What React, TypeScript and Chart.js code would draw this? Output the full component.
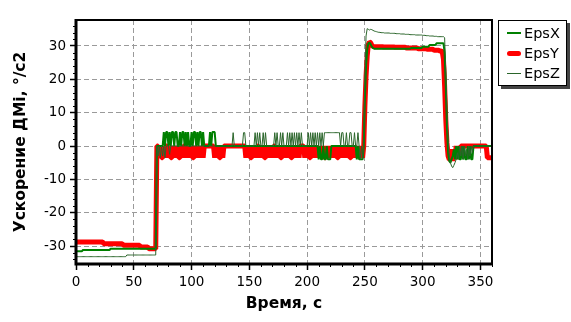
import React, { useEffect, useRef } from 'react';
import { Chart, registerables } from 'chart.js';

Chart.register(...registerables);

// sampling of the recorded series (seconds)
const T_START = 0;
const T_STEP = 1;

// axis ticks
const X_TICKS = [0, 50, 100, 150, 200, 250, 300, 350];
const Y_TICKS = [-30, -20, -10, 0, 10, 20, 30];
const X_MIN = 0;
const X_MAX = 360;
const Y_MIN = -35.4;
const Y_MAX = 37.8;
const X_MINOR_STEP = 10;
const Y_MINOR_STEP = 2;

const SERIES_NAMES = ['EpsX', 'EpsY', 'EpsZ'];

// EpsX, one value per second, t = 0..360
const EPS_X = [
  -31.6, -31.6, -31.6, -31.6, -31.6, -31.6, -31.2, -31.2, -31.2, -31.2,
  -31.2, -31.2, -31.2, -31.2, -31.2, -31.2, -31.2, -31.2, -31.2, -31.2,
  -31.2, -31.2, -31.2, -31.2, -31.2, -31.2, -31.2, -31.2, -31.2, -31.2,
  -30.8, -30.8, -30.8, -30.8, -30.8, -30.8, -30.8, -30.8, -30.8, -30.8,
  -30.8, -30.8, -30.8, -30.8, -30.8, -30.8, -30.8, -30.8, -30.8, -30.8,
  -30.8, -30.8, -30.8, -30.8, -30.8, -30.8, -30.8, -30.8, -30.8, -30.8,
  -30.8, -30.8, -30.8, -30.8, -30.8, -30.8, -30.8, -30.8, -30.8, -30.8,
  0, 0, 0, 0, 0, 0, 4.2, 0, 4.2, 4.2,
  0, 4.2, 0, 4.2, 4.2, 0, 4.2, 4.2, 0, 0,
  4.2, 0, 4.2, 4.2, 0, 4.2, 0, 4.2, 0, 0,
  4.2, 0, 4.2, 4.2, 0, 4.2, 0, 4.2, 4.2, 0,
  4.2, 0, 0, 0, 0, 0, 4.2, 0, 4.2, 4.2,
  4.2, 0, 0, 0, 0, 0, 0, 0, 0, 0,
  0, 0, 0, 0, 0, 0, 0, 0, 0, 0,
  0, 0, 0, 0, 0, 0, 0, 0, 0, 0,
  0, 0, 0, 0, 0, 0, 0, 0, 0, 0,
  0, 0, 0, 0, 0, 0, 0, 0, 0, 0,
  0, 0, 0, 0, 0, 0, 0, 0, 0, 0,
  0, 0, 0, 0, 0, 0, 0, 0, 0, 0,
  0, 0, 0, 0, 0, 0, 0, 0, 0, 0,
  0, 0, 0, 0, 0, 0, 0, 0, 0, 0,
  -4, 0, -4, -4, 0, -4, -4, 0, -4, -4,
  -4, 0, 0, 0, 0, 0, 0, 0, 0, 0,
  0, 0, 0, 0, 0, 0, 0, 0, 0, 0,
  0, 0, 0, -4, 0, -4, -4, -4, -4, 0,
  14, 24, 29, 30.8, 31, 30.5, 29.8, 29.4, 29.2, 29.2,
  29.2, 29.2, 29.2, 29.2, 29.2, 29.2, 29.2, 29.2, 29.2, 29.2,
  29.2, 29.2, 29.2, 29.2, 29.2, 29.2, 29.2, 29.2, 29.2, 29.2,
  29.2, 29.2, 29.2, 29.2, 29.2, 29.2, 29.2, 29.2, 29.2, 29.2,
  29.4, 29.4, 29.4, 29.4, 29.4, 29.4, 29.4, 29.4, 29.4, 29.4,
  29.8, 29.8, 29.8, 29.8, 29.8, 29.8, 30.3, 30.3, 30.3, 30.3,
  30.3, 30.3, 30.8, 30.8, 30.8, 30.8, 30.8, 30.8, 30.8, 28,
  18, 6, -2, -4.5, -5, -4, -3, -1, -4, 0,
  -4, 0, -4, -4, 0, -4, 0, -4, -4, 0,
  -4, 0, -4, -4, 0, 0, 0, 0, 0, 0,
  0, 0, 0, 0, 0, 0, 0, 0, 0, 0,
  0,
];

// EpsY, one value per second, t = 0..360
const EPS_Y = [
  -28.8, -28.8, -28.8, -28.8, -28.8, -28.8, -28.8, -28.8, -28.8, -28.8,
  -28.8, -28.8, -28.8, -28.8, -28.8, -28.8, -28.8, -28.8, -28.8, -28.8,
  -28.8, -28.8, -28.8, -28.8, -29.3, -29.3, -29.3, -29.3, -29.3, -29.3,
  -29.3, -29.3, -29.3, -29.3, -29.3, -29.3, -29.3, -29.3, -29.3, -29.3,
  -29.3, -29.8, -29.8, -29.8, -29.8, -29.8, -29.8, -29.8, -29.8, -29.8,
  -29.8, -29.8, -29.8, -29.8, -29.8, -29.8, -30.3, -30.3, -30.3, -30.3,
  -30.3, -30.3, -30.3, -30.8, -30.8, -30.8, -30.8, -30.8, -30.8, -30.8,
  0, 0, -3.5, 0, -3.5, -3.5, 0, -3.5, 0, 0,
  -3.5, 0, -3.5, -3.5, 0, -3.5, 0, -3.5, 0, -3.5,
  -3.5, 0, -3.5, 0, 0, -3.5, 0, -3.5, 0, -3.5,
  0, -3.5, -3.5, 0, -3.5, 0, -3.5, 0, -3.5, 0,
  -3.5, 0, 0, 0, 0, 0, 0, 0, 0, 0,
  -3.5, 0, -3.5, 0, -3.5, -3.5, 0, -3.5, 0, 0,
  0, 0, 0, 0, 0, 0, 0, 0, 0, 0,
  0, 0, 0, 0, 0, 0, 0, -3.5, 0, -3.5,
  0, -3.5, -3.5, 0, -3.5, 0, -3.5, 0, 0, -3.5,
  0, -3.5, 0, -3.5, -3.5, 0, -3.5, 0, -3.5, 0,
  -3.5, 0, 0, -3.5, 0, -3.5, 0, -3.5, -3.5, 0,
  -3.5, 0, -3.5, 0, -3.5, 0, -3.5, -3.5, 0, -3.5,
  0, -3.5, 0, -3.5, 0, 0, 0, 0, -3.5, 0,
  -3.5, 0, -3.5, -3.5, 0, -3.5, 0, -3.5, 0, -3.5,
  0, -3.5, 0, -3.5, 0, -3.5, -3.5, 0, -3.5, 0,
  -3.5, 0, -3.5, 0, -3.5, 0, -3.5, -3.5, 0, -3.5,
  0, -3.5, 0, -3.5, 0, -3.5, 0, -3.5, -3.5, 0,
  -3.5, 0, -3.5, 0, -3.5, 0, -3.5, 0, -3.5, 0,
  12, 21, 27, 30.5, 31.2, 31, 30.2, 29.9, 29.8, 29.8,
  29.8, 29.8, 29.8, 29.8, 29.8, 29.8, 29.7, 29.7, 29.7, 29.7,
  29.7, 29.7, 29.7, 29.7, 29.7, 29.7, 29.6, 29.6, 29.6, 29.6,
  29.6, 29.6, 29.6, 29.6, 29.6, 29.6, 29.4, 29.4, 29.4, 29.4,
  29.4, 29.4, 29.4, 29.4, 29.4, 29.4, 29.2, 29.2, 29.2, 29.2,
  29.2, 29.2, 29.2, 29.2, 29.0, 29.0, 29.0, 29.0, 29.0, 29.0,
  28.7, 28.7, 28.7, 28.7, 28.7, 28.5, 28.5, 28.2, 26, 18,
  8, 1, -3, -4, -4, -1, -4.5, -2, -4, 0,
  -3.5, 0, -3.5, 0, 0, 0, 0, 0, 0, 0,
  0, 0, 0, 0, 0, 0, 0, 0, 0, 0,
  0, 0, 0, 0, 0, 0, -3.5, -3.5, -3.5, -3.5,
  -3.5,
];

// EpsZ, one value per second, t = 0..360
const EPS_Z = [
  -33.2, -33.2, -33.2, -33.2, -33.2, -33.2, -33.2, -33.2, -33.2, -33.2,
  -33.2, -33.2, -33.2, -33.2, -33.2, -33.2, -33.2, -33.2, -33.2, -33.2,
  -33.2, -33.2, -33.2, -33.2, -33.2, -33.2, -33.2, -33.2, -33.2, -33.2,
  -33.2, -33.2, -33.2, -33.2, -33.2, -33.2, -33.2, -33.2, -33.2, -33.2,
  -33.2, -33.2, -33.2, -33.2, -32.7, -32.7, -32.7, -32.7, -32.7, -32.7,
  -32.7, -32.7, -32.7, -32.7, -32.7, -32.7, -32.7, -32.7, -32.7, -32.7,
  -32.7, -32.7, -32.7, -32.7, -32.7, -32.7, -32.7, -32.7, -32.7, -32.7,
  0, -3, 0, -3.5, 0, -3, 0, -3.5, 0, 0,
  0, -2.5, 0, 0, 0, 0, 0, 0, 0, 0,
  0, 0, 0, 0, 0, 0, 0, 0, 0, 0,
  0, 0, 0, 0, 0, 0, 0, 0, 0, 0,
  0, 0, 0, 0, 0, 0, 0, 0, 0, 0,
  0, 0, 0, 0, 0, 0, 0, 0, 0, 0,
  0, 0, 0, 0, 0, 0, 4, 0, 0, 0,
  0, 0, 0, 0, 0, 4, 4, 0, 0, 0,
  0, 0, 0, 0, 0, 4, 0, 4, 0, 4,
  0, 0, 4, 0, 4, 0, 0, 0, 0, 0,
  0, 0, 4, 0, 4, 0, 0, 4, 0, 4,
  0, 0, 0, 4, 0, 4, 0, 4, 0, 4,
  0, 4, 0, 4, 0, 4, 0, 0, 0, 0,
  0, 4, 0, 4, 0, 4, 0, 4, 0, 4,
  0, 4, 0, 4, 0, 4, 4, 4, 4, 4,
  4, 4, 4, 4, 4, 4, 4, 4, 4, 0,
  4, 4, 0, 0, 4, 0, 0, 4, 4, 0,
  0, 4, 0, 0, 4, 0, -4, 0, -4, 0,
  20, 33, 35.2, 35, 34.8, 35, 34.9, 34.7, 34.5, 34.4,
  34.3, 34.2, 34.1, 34.1, 34.0, 34.0, 34.0, 33.9, 33.9, 33.9,
  33.9, 33.9, 33.8, 33.8, 33.8, 33.8, 33.8, 33.7, 33.7, 33.7,
  33.7, 33.6, 33.6, 33.6, 33.6, 33.5, 33.5, 33.5, 33.5, 33.4,
  33.4, 33.4, 33.4, 33.4, 33.3, 33.3, 33.3, 33.3, 33.3, 33.3,
  33.2, 33.2, 33.2, 33.1, 33.1, 33.1, 33.0, 33.0, 33.0, 33.0,
  32.9, 32.9, 32.9, 32.8, 32.8, 32.8, 32.8, 32.8, 32.8, 32.5,
  22, 10, 2, -3, -5, -6, -6.5, -5.8, -5, -4,
  -2, -4, 0, -3, 0, -4, 0, -3, -1, -4,
  0, -3, 0, -2, 0, 0, 0, 0, 0, 0,
  0, 0, 0, 0, 0, 0, 0, 0, 0, 0,
  0,
];

const COLORS = ['#008000', '#ff0000', '#2a652a'];
const WIDTHS = [2, 5, 1];
const DRAW_ORDER = [1, 2, 0]; // lower is drawn on top

const FONT = "'DejaVu Sans', 'Liberation Sans', Arial, sans-serif";

const toPoints = (vals: number[]) => vals.map((v, i) => ({ x: T_START + i * T_STEP, y: v }));

const framePlugin = {
  id: 'frameAndMinorTicks',
  afterDraw(chart: any) {
    const { ctx, chartArea, scales } = chart;
    const { left, right, top, bottom } = chartArea;
    const xs = scales.x;
    const ys = scales.y;
    ctx.save();
    ctx.strokeStyle = '#000';
    ctx.lineWidth = 1;
    ctx.beginPath();
    for (let v = X_MIN; v <= X_MAX; v += X_MINOR_STEP) {
      if (X_TICKS.includes(v)) continue;
      const px = Math.round(xs.getPixelForValue(v)) + 0.5;
      ctx.moveTo(px, bottom);
      ctx.lineTo(px, bottom + 3);
    }
    for (let v = Math.ceil(Y_MIN / Y_MINOR_STEP) * Y_MINOR_STEP; v <= Y_MAX; v += Y_MINOR_STEP) {
      if (Y_TICKS.includes(v)) continue;
      const py = Math.round(ys.getPixelForValue(v)) + 0.5;
      ctx.moveTo(left - 3, py);
      ctx.lineTo(left, py);
    }
    ctx.stroke();
    ctx.lineWidth = 2;
    ctx.strokeRect(left, top, right - left, bottom - top);
    ctx.lineWidth = 3;
    ctx.beginPath();
    ctx.moveTo(left, top - 1);
    ctx.lineTo(left, bottom);
    ctx.lineTo(right + 1, bottom);
    ctx.stroke();
    ctx.restore();
  },
};

export default function App() {
  const canvasRef = useRef<HTMLCanvasElement | null>(null);

  useEffect(() => {
    document.body.style.margin = '0';
    const canvas = canvasRef.current;
    if (!canvas) return;
    const seriesValues = [EPS_X, EPS_Y, EPS_Z];
    const chart = new Chart(canvas, {
      type: 'line',
      data: {
        datasets: SERIES_NAMES.map((name, i) => ({
          label: name,
          data: toPoints(seriesValues[i]),
          borderColor: COLORS[i],
          backgroundColor: COLORS[i],
          borderWidth: WIDTHS[i],
          pointRadius: 0,
          tension: 0,
          fill: false,
          order: DRAW_ORDER[i],
          borderJoinStyle: 'bevel',
        })),
      },
      options: {
        responsive: false,
        animation: false,
        devicePixelRatio: 1,
        parsing: true,
        layout: { padding: { left: 0, top: 20, right: 79, bottom: 0 } },
        plugins: {
          legend: { display: false },
          tooltip: { enabled: false },
        },
        scales: {
          x: {
            type: 'linear',
            min: X_MIN,
            max: X_MAX,
            afterBuildTicks: (s: any) => {
              s.ticks = X_TICKS.map((v) => ({ value: v }));
            },
            afterFit: (s: any) => {
              s.height = 58;
            },
            ticks: {
              color: '#000',
              font: { family: FONT, size: 13.5 },
              padding: 4,
              maxRotation: 0,
              autoSkip: false,
            },
            grid: {
              color: '#9a9a9a',
              lineWidth: 1,
              drawTicks: true,
              tickLength: 6,
              tickColor: '#000',
              tickWidth: 1.5,
              tickBorderDash: [],
            },
            border: { display: false, dash: [5, 3] },
            title: {
              display: true,
              text: 'Время, с',
              color: '#000',
              font: { family: FONT, size: 15.5, weight: 'bold' },
              padding: { top: 0, bottom: 9 },
            },
          },
          y: {
            type: 'linear',
            min: Y_MIN,
            max: Y_MAX,
            afterBuildTicks: (s: any) => {
              s.ticks = Y_TICKS.map((v) => ({ value: v }));
            },
            afterFit: (s: any) => {
              s.width = 76;
            },
            ticks: {
              color: '#000',
              font: { family: FONT, size: 13.5 },
              padding: 4,
            },
            grid: {
              color: '#9a9a9a',
              lineWidth: 1,
              drawTicks: true,
              tickLength: 6,
              tickColor: '#000',
              tickWidth: 1.5,
              tickBorderDash: [],
            },
            border: { display: false, dash: [5, 3] },
            title: {
              display: true,
              text: 'Ускорение ДМi, °/с2',
              color: '#000',
              font: { family: FONT, size: 15.5, weight: 'bold' },
              padding: { top: 12, bottom: 0 },
            },
          },
        },
      },
      plugins: [framePlugin],
    } as any);
    return () => chart.destroy();
  }, []);

  const legendRow = (i: number) => (
    <div
      key={SERIES_NAMES[i]}
      style={{ display: 'flex', alignItems: 'center', height: 20 }}
    >
      <div style={{ width: 14, display: 'flex', alignItems: 'center', justifyContent: 'center', marginLeft: 8 }}>
        <div
          style={{
            width: 14,
            height: WIDTHS[i] === 5 ? 5 : WIDTHS[i],
            background: COLORS[i],
            borderRadius: WIDTHS[i] === 5 ? 2.5 : 0,
          }}
        />
      </div>
      <span style={{ marginLeft: 3, fontFamily: FONT, fontSize: 14.5, color: '#000', lineHeight: '20px' }}>
        {SERIES_NAMES[i]}
      </span>
    </div>
  );

  return (
    <div style={{ position: 'relative', width: 571, height: 322, background: '#fff' }}>
      <canvas ref={canvasRef} width={571} height={322} style={{ display: 'block' }} />
      <div
        style={{
          position: 'absolute',
          left: 498,
          top: 20,
          width: 69,
          height: 66,
          boxSizing: 'border-box',
          border: '1px solid #000',
          background: '#fff',
          boxShadow: '3px 3px 0 #444',
          paddingTop: 2,
        }}
      >
        {[0, 1, 2].map(legendRow)}
      </div>
    </div>
  );
}
